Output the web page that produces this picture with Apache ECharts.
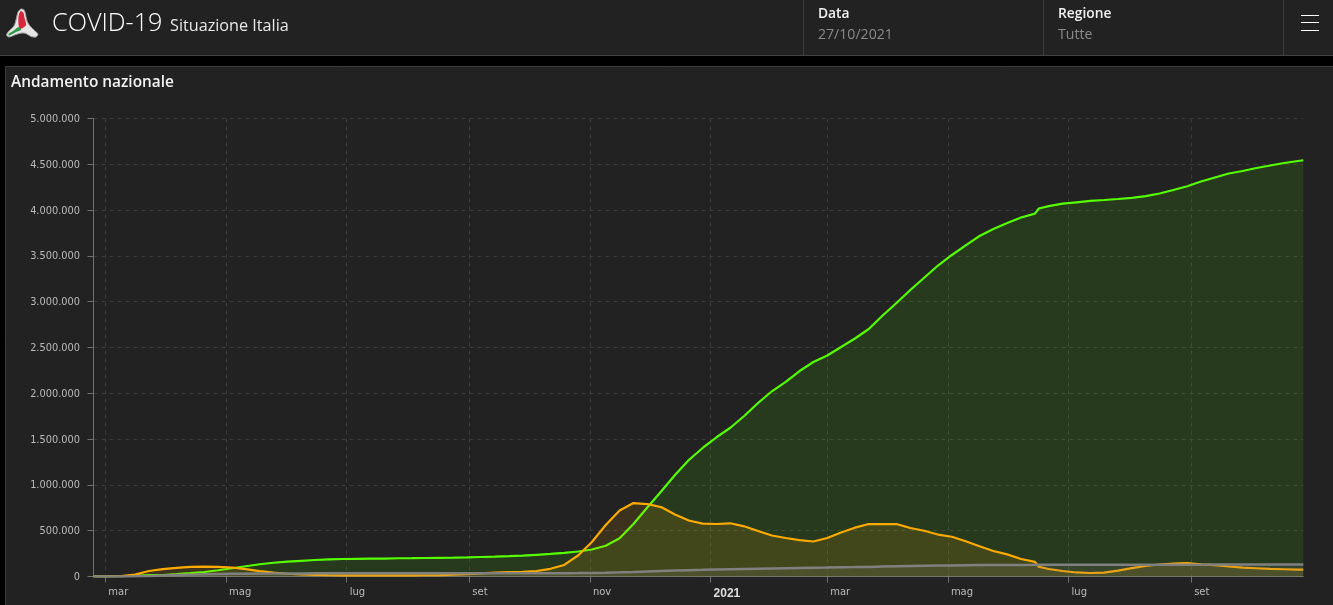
<!DOCTYPE html>
<html lang="it">
<head>
<meta charset="utf-8">
<title>COVID-19 Situazione Italia</title>
<style>html,body{margin:0;padding:0;background:#000;overflow:hidden}#c{width:1333px;height:605px}</style>
<script src="https://cdn.jsdelivr.net/npm/echarts@6/dist/echarts.min.js"></script>
</head>
<body>
<div id="c"></div>
<script>
const dates = [
'2020-02-24','2020-03-02','2020-03-09','2020-03-16','2020-03-23','2020-03-30','2020-04-06','2020-04-13','2020-04-20','2020-04-27',
'2020-05-04','2020-05-11','2020-05-18','2020-05-25','2020-06-01','2020-06-08','2020-06-15','2020-06-22','2020-06-29','2020-07-06',
'2020-07-13','2020-07-20','2020-07-27','2020-08-03','2020-08-10','2020-08-17','2020-08-24','2020-08-31','2020-09-07','2020-09-14',
'2020-09-21','2020-09-28','2020-10-05','2020-10-12','2020-10-19','2020-10-26','2020-11-02','2020-11-09','2020-11-16','2020-11-23',
'2020-11-30','2020-12-07','2020-12-14','2020-12-21','2020-12-28','2021-01-04','2021-01-11','2021-01-18','2021-01-25','2021-02-01',
'2021-02-08','2021-02-15','2021-02-22','2021-03-01','2021-03-08','2021-03-15','2021-03-22','2021-03-29','2021-04-05','2021-04-12',
'2021-04-19','2021-04-26','2021-05-03','2021-05-10','2021-05-17','2021-05-24','2021-05-31','2021-06-07','2021-06-14','2021-06-15','2021-06-16',
'2021-06-21','2021-06-28','2021-07-05','2021-07-12','2021-07-19','2021-07-26','2021-08-02','2021-08-09','2021-08-16','2021-08-23','2021-08-30',
'2021-09-06','2021-09-13','2021-09-20','2021-09-27','2021-10-04','2021-10-11','2021-10-18','2021-10-25','2021-10-27T17:00:00'];
const guariti = [
0,1000,3000,8000,14000,16000,25000,36000,49000,68000,
90000,112000,134000,150000,162000,171000,180000,187000,191000,193000,
195000,196000,199000,200000,202000,204000,206000,209000,213000,217000,
222000,228000,237000,246000,258000,273000,295000,336000,418000,573000,
753000,928000,1108000,1272000,1403000,1520000,1624000,1752000,1894000,2022000,
2125000,2243000,2342000,2413000,2505000,2598000,2702000,2849000,2986000,3128000,
3262000,3395000,3510000,3614000,3717000,3794000,3859000,3919000,3961000,3965000,4017000,
4044000,4070000,4085000,4100000,4110000,4121000,4134000,4152000,4181000,4219000,4261000,
4312000,4356000,4400000,4427000,4460000,4487000,4514000,4536000,4544000];
const positivi = [
0,1500,5000,20000,60000,80000,94000,105000,108000,106000,
98000,80000,58000,42000,30000,22000,17000,14000,12000,12500,
12000,12000,12500,13000,13500,15000,19000,26000,34000,42000,
48000,52000,60000,84000,126000,229000,377000,562000,720000,802000,
791000,758000,677000,611000,577000,573000,581000,548000,497000,448000,
420000,398000,382000,420000,480000,533000,573000,571000,573000,529000,
499000,458000,434000,384000,331000,278000,242000,191000,160000,158000,107000,
82000,60000,44000,38000,42000,65000,91000,115000,131000,140000,145000,
133000,125000,109000,97000,90000,83000,79000,75000,74000];
const deceduti = [
0,50,460,2160,6080,11590,16520,20470,24110,26980,
29080,30560,32010,32880,33420,33960,34370,34660,34740,34870,
34970,35060,35110,35150,35210,35400,35440,35480,35550,35610,
35720,35850,36000,36250,36620,37340,39060,41750,45730,50450,
55580,60610,65010,69210,72370,76330,80330,83160,85880,88520,
91000,93360,95720,98000,100480,102500,105000,108000,111000,114000,
117000,119000,121000,123000,124500,125500,126000,126800,127000,127100,127200,
127300,127500,127700,127900,128000,128100,128200,128400,128600,128800,129000,
129300,129800,130000,130400,130700,131000,131300,131500,131800];
const xTickDates = ['2020-03-01','2020-05-01','2020-07-01','2020-09-01','2020-11-01','2021-01-01','2021-03-01','2021-05-01','2021-07-01','2021-09-01'];
const xTickLabels = ['mar','mag','lug','set','nov','2021','mar','mag','lug','set'];
const yTickLabels = ['0','500.000','1.000.000','1.500.000','2.000.000','2.500.000','3.000.000','3.500.000','4.000.000','4.500.000','5.000.000'];
const yStep = 500000;

const ts = s => new Date(s.length > 10 ? s : s + 'T00:00:00').getTime();
const xTicks = xTickDates.map(ts);
const pairs = vals => dates.map((d, i) => [ts(d), vals[i]]);
const line = (name, color, vals, alpha, z, width) => ({
  name, type: 'line', data: pairs(vals), showSymbol: false, symbol: 'none', z, silent: true,
  lineStyle: { color, width: width || 2.2 }, itemStyle: { color },
  areaStyle: { color, opacity: alpha }, animation: false
});
const uiFont = '"Open Sans", "Noto Sans", sans-serif';
const txt = (x, y, text, size, fill, weight) => ({
  type: 'text', x, y, silent: true, z: 10,
  style: { text, fontSize: size, fontFamily: uiFont, fill, fontWeight: weight || 400, textVerticalAlign: 'middle' }
});
const box = (x, y, w, h, fill) => ({ type: 'rect', x, y, shape: { x: 0, y: 0, width: w, height: h }, style: { fill }, silent: true, z: -5 });
const poly = (points, fill, stroke) => ({
  type: 'polygon', silent: true, z: 5,
  shape: { points, smooth: 0.3 },
  style: { fill, stroke: stroke || null, lineWidth: stroke ? 1 : 0 }
});

const chart = echarts.init(document.getElementById('c'), null, { renderer: 'canvas', width: 1333, height: 605 });
chart.setOption({
  backgroundColor: '#000',
  animation: false,
  grid: { left: 93.5, right: 29.7, top: 118.5, bottom: 28.5 },
  xAxis: {
    type: 'value', min: ts(dates[0]), max: ts(dates[dates.length - 1]),
    axisLine: { onZero: true, lineStyle: { color: '#707070', width: 1 } },
    axisTick: { show: true, length: 6, customValues: xTicks, lineStyle: { color: '#707070' } },
    axisLabel: {
      customValues: xTicks, color: '#bbbbbb', fontSize: 10, fontFamily: 'DejaVu Sans', margin: 11, align: 'left', padding: [0, 0, 0, 3],
      hideOverlap: false, showMinLabel: true, showMaxLabel: true,
      formatter: v => {
        const l = xTickLabels[xTicks.indexOf(v)] || '';
        return /^\d+$/.test(l) ? '{b|' + l + '}' : l;
      },
      rich: { b: { fontWeight: 'bold', fontSize: 12, color: '#dddddd', fontFamily: 'Liberation Sans' } }
    },
    splitLine: { show: true, lineStyle: { color: '#3b3b3b', type: [4, 4], width: 1 } }
  },
  yAxis: {
    type: 'value', min: 0, max: 5000000, interval: yStep,
    axisLine: { show: true, lineStyle: { color: '#707070', width: 1 } },
    axisTick: { show: true, length: 6, lineStyle: { color: '#707070' } },
    axisLabel: { color: '#bbbbbb', fontSize: 9.8, fontFamily: 'DejaVu Sans', margin: 13.5, verticalAlign: 'top', lineHeight: 12, padding: [-5, 0, 0, 0], formatter: v => yTickLabels[Math.round(v / yStep)] },
    splitLine: { show: true, lineStyle: { color: '#3b3b3b', type: [4, 4], width: 1 } }
  },
  series: [
    line('Guariti', '#55ff00', guariti, 0.11, 3),
    line('Positivi', '#ffaa00', positivi, 0.12, 4),
    line('Deceduti', '#808080', deceduti, 0.17, 5, 2.5)
  ],
  graphic: { elements: [
    { type: 'rect', x: 0, y: 0, shape: { width: 1333, height: 55 }, style: { fill: '#222222' }, silent: true, z: -10 },
    { type: 'rect', x: 0, y: 55, shape: { width: 1333, height: 1 }, style: { fill: '#444444' }, silent: true, z: -10 },
    { type: 'rect', x: 5.5, y: 66.5, shape: { width: 1340, height: 560 }, style: { fill: '#222222', stroke: '#3c3c3c', lineWidth: 1 }, silent: true, z: -10 },
    box(803, 0, 1, 55, '#3a3a3a'), box(1043, 0, 1, 55, '#3a3a3a'), box(1283, 0, 1, 55, '#3a3a3a'),
    box(1301, 15, 18, 1, '#ffffff'), box(1301, 22, 18, 1, '#ffffff'), box(1301, 30, 18, 1, '#ffffff'),
    poly([[21,9],[24,10],[25.5,14],[27,21],[30,26],[35,31],[38,34],[36,37],[31,36.5],[26,33.5],[22,33],[16,34.5],[9,37],[6.5,35],[9,31],[14,26],[16.5,18],[18,12]], '#e6e6e6', '#9a9a9a'),
    poly([[21,11],[23.5,13],[24.5,18],[26,25],[20,29],[18.5,24],[18.5,17],[19.5,13]], '#d9263c'),
    poly([[19,27],[21,30],[16,32],[9,35.5],[8.5,34],[13,31]], '#2f9a45'),
    txt(52, 24, 'COVID-19', 25.2, '#ffffff', 300),
    txt(170, 26.5, 'Situazione Italia', 16.2, '#e8e8e8'),
    txt(818, 14, 'Data', 13.8, '#f0f0f0', 600),
    txt(818, 35, '27/10/2021', 14.1, '#8a8a8a'),
    txt(1058, 14, 'Regione', 13.8, '#f0f0f0', 600),
    txt(1058, 35, 'Tutte', 14.1, '#8a8a8a'),
    txt(11, 83, 'Andamento nazionale', 15.4, '#f2f2f2', 600)
  ] }
});
</script>
</body>
</html>
